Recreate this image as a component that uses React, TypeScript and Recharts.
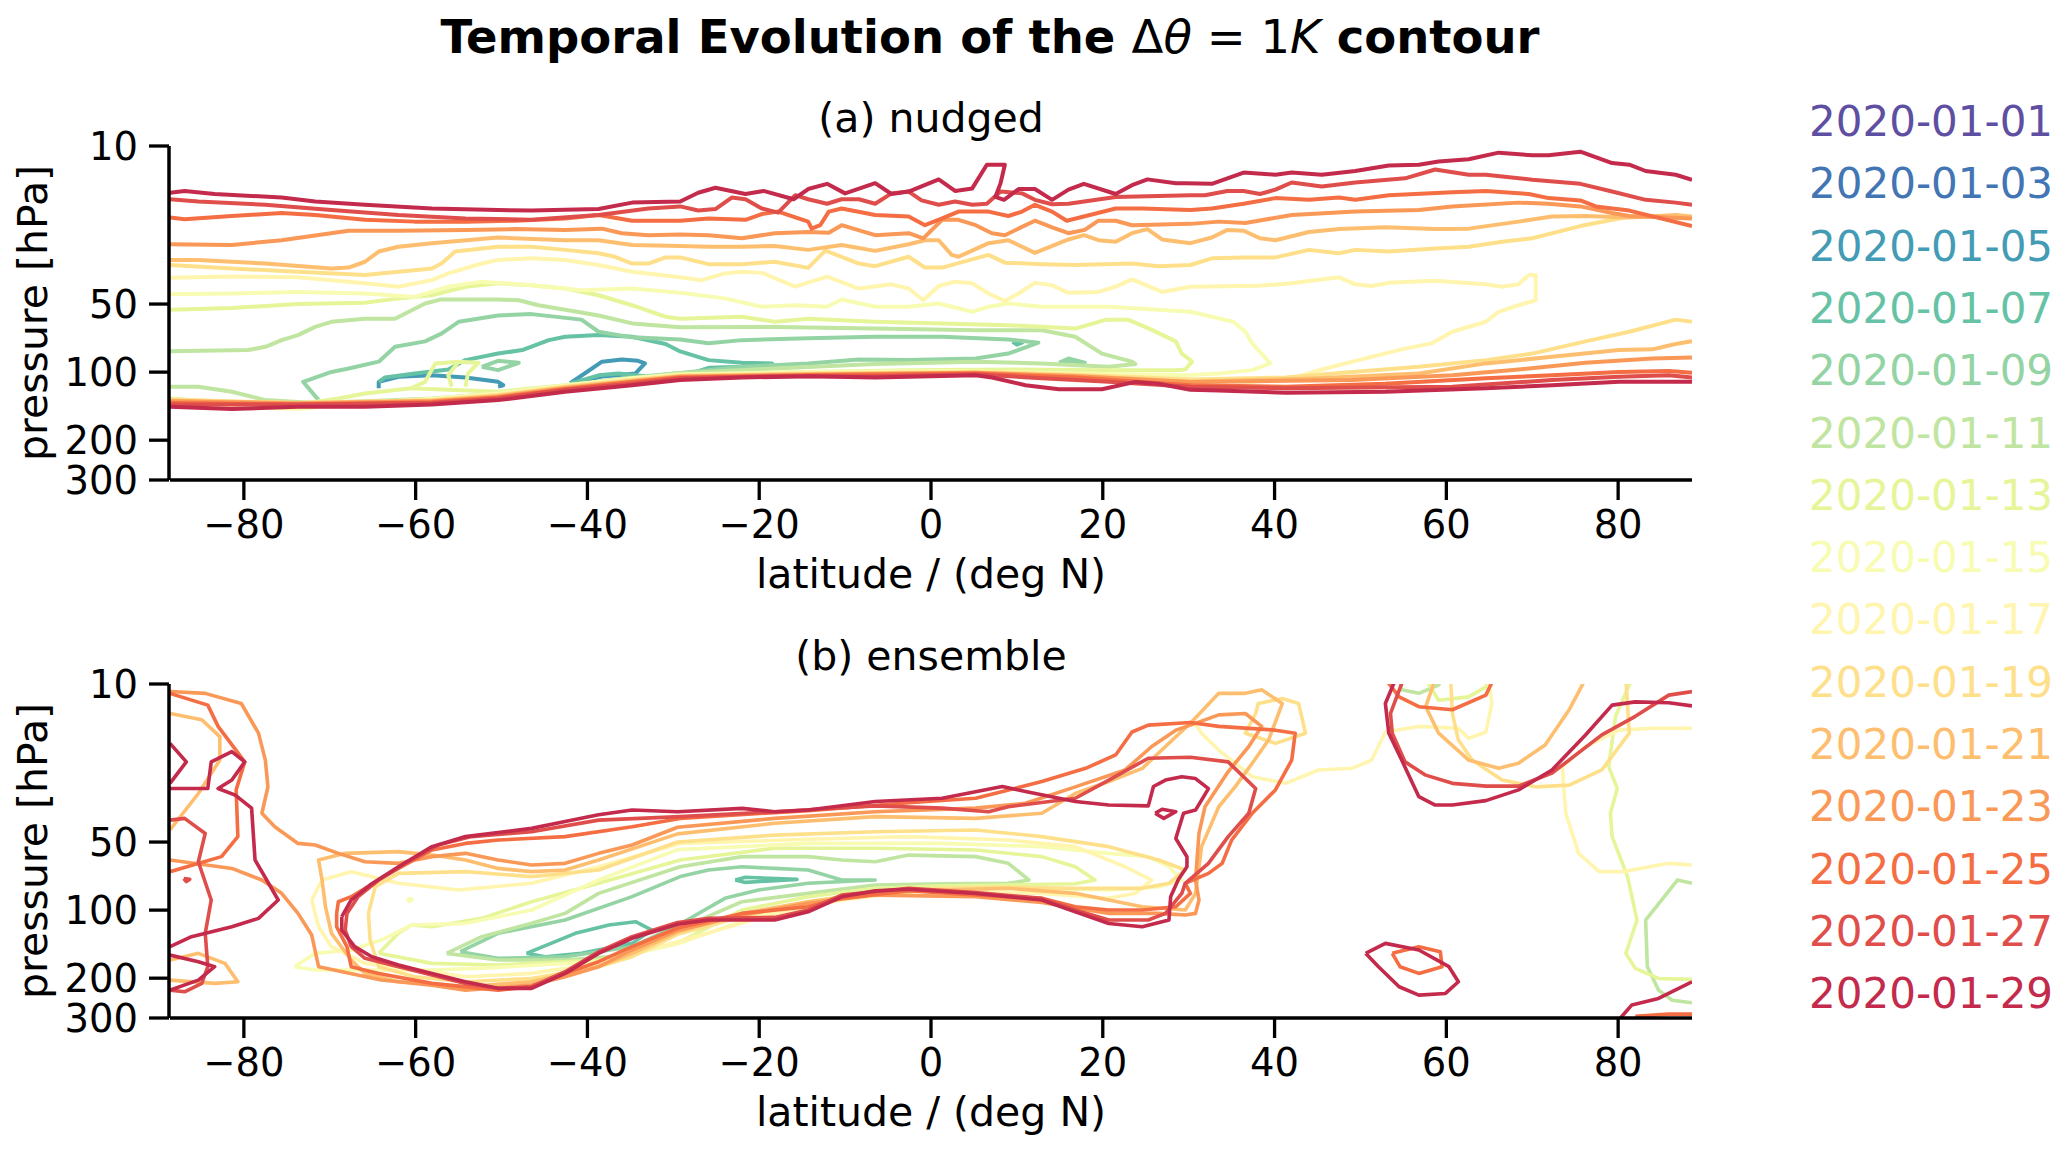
import React from 'react';
import { LineChart, Line, XAxis, YAxis } from 'recharts';

type Pt = [number, number]; // [latitude, pressure hPa]
type Seg = Pt[];

const dates = [
  '2020-01-01', '2020-01-03', '2020-01-05', '2020-01-07', '2020-01-09',
  '2020-01-11', '2020-01-13', '2020-01-15', '2020-01-17', '2020-01-19',
  '2020-01-21', '2020-01-23', '2020-01-25', '2020-01-27', '2020-01-29',
];
const latTicks = [-80, -60, -40, -20, 0, 20, 40, 60, 80];
const pressureTicks = [10, 50, 100, 200, 300];
const pressureMinorTicks = [20, 30, 40, 60, 70, 80, 90];

// ---------- (a) nudged ----------
const nudged01: Seg[] = [];
const nudged03: Seg[] = [];
const nudged05: Seg[] = [
  [[-64.3, 117.9], [-64.3, 110.4], [-62.0, 104.9], [-58.1, 103.3], [-54.2, 105.7], [-50.4, 110.4], [-49.8, 114.3], [-50.4, 116.0]],
  [[-42.0, 112.0], [-38.3, 89.9], [-36.0, 87.9], [-34.1, 89.1], [-33.3, 91.5], [-34.4, 101.4], [-38.3, 104.5], [-42.0, 112.0]],
];
const nudged07: Seg[] = [
  [[-64.3, 110.4], [-63.6, 105.7], [-60.1, 101.4], [-56.2, 97.4], [-54.2, 88.5], [-50.4, 82.8], [-47.6, 79.9], [-44.5, 72.2], [-42.6, 69.8], [-38.7, 68.6], [-34.8, 69.8], [-30.9, 75.1], [-29.2, 81.0], [-25.9, 88.5], [-22.0, 90.9], [-18.5, 91.5], [-22.0, 94.7], [-25.9, 95.7], [-27.9, 101.4], [-29.8, 104.9]],
  [[-42.0, 112.5], [-38.7, 103.3], [-36.4, 101.4], [-33.3, 104.3]],
  [[9.5, 73.5], [10.6, 74.0], [10.0, 75.6], [9.5, 73.5]],
];
const nudged09: Seg[] = [
  [[-71.3, 133.0], [-73.1, 110.4], [-69.8, 99.8], [-67.8, 96.4], [-64.3, 89.9], [-62.4, 77.3], [-58.9, 73.1], [-57.0, 67.6], [-55.0, 59.9], [-50.4, 56.2], [-46.5, 55.4], [-40.7, 58.6], [-38.7, 66.3], [-34.8, 70.2], [-29.2, 71.7], [-25.9, 74.6], [-22.0, 72.2], [-14.3, 70.9], [-6.5, 69.8], [1.3, 69.8], [9.0, 71.7], [12.5, 74.1], [9.0, 82.8], [5.2, 87.1], [-2.6, 88.5], [-8.4, 87.9], [-14.3, 91.5], [-22.0, 94.7], [-25.9, 98.0], [-29.8, 101.4], [-34.8, 105.7], [-38.7, 110.4]],
  [[14.9, 90.9], [16.0, 87.1], [17.9, 90.9], [14.9, 90.9]],
  [[-52.3, 94.7], [-50.4, 89.1], [-48.0, 90.9], [-50.4, 98.0], [-52.3, 94.7]],
];
const nudged11: Seg[] = [
  [[-88.6, 80.8], [-79.5, 79.9], [-77.5, 77.3], [-75.6, 72.2], [-73.7, 68.6], [-71.7, 63.1], [-69.8, 59.9], [-65.9, 58.1], [-62.4, 58.1], [-58.9, 49.7], [-57.0, 47.7], [-50.4, 47.7], [-48.0, 48.1], [-45.7, 50.6], [-42.6, 53.0], [-38.7, 56.2], [-34.8, 60.9], [-29.2, 63.4], [-18.2, 63.1], [-6.5, 64.2], [5.2, 65.3], [12.9, 65.3], [16.8, 69.8], [19.9, 82.8], [23.4, 89.9], [23.8, 92.1], [20.7, 94.7], [12.9, 91.5], [5.2, 89.9], [-6.5, 92.1], [-18.2, 96.4], [-29.8, 101.4], [-42.6, 115.4], [-50.4, 124.3], [-58.1, 130.9], [-65.9, 134.7], [-71.7, 137.0], [-77.5, 133.0], [-81.4, 122.2], [-85.3, 116.0], [-88.6, 116.0]],
];
const nudged13: Seg[] = [
  [[-88.6, 53.0], [-81.4, 52.1], [-73.7, 50.0], [-65.9, 49.3], [-62.0, 47.2], [-58.1, 45.7], [-54.2, 41.9], [-50.4, 40.5], [-46.5, 41.3], [-42.6, 42.7], [-38.7, 45.7], [-34.8, 50.6], [-30.9, 56.9], [-29.2, 58.1], [-22.0, 56.9], [-18.2, 59.9], [-14.3, 58.1], [-6.5, 59.9], [1.3, 60.9], [9.0, 62.0], [16.8, 64.2], [20.3, 58.7], [23.0, 58.7], [25.4, 64.2], [28.5, 73.1], [29.2, 82.8], [30.2, 88.5], [30.4, 89.9], [29.6, 97.4], [28.5, 98.0], [20.7, 98.0], [9.0, 97.4], [-2.6, 98.0], [-14.3, 99.8], [-29.2, 102.2], [-34.8, 106.5], [-42.6, 114.3], [-50.4, 122.2], [-60.5, 117.9], [-65.9, 124.3], [-69.0, 130.9], [-73.7, 139.0], [-81.4, 137.0], [-88.6, 130.9]],
  [[-60.5, 117.9], [-58.9, 110.4], [-57.7, 91.5], [-55.0, 89.9], [-56.2, 103.3], [-55.8, 116.0]],
  [[-54.2, 116.0], [-53.9, 101.4], [-52.7, 90.9], [-55.0, 89.9]],
];
const nudged15: Seg[] = [
  [[-88.6, 45.3], [-81.4, 44.9], [-73.7, 44.2], [-65.9, 44.9], [-60.1, 46.5], [-56.2, 41.9], [-52.3, 39.8], [-46.5, 41.3], [-40.7, 43.4], [-34.8, 42.7], [-29.2, 44.6], [-24.0, 47.2], [-19.7, 51.4], [-15.8, 50.6], [-12.1, 51.4], [-10.4, 47.7], [-6.5, 51.4], [-2.6, 51.4], [0.9, 49.7], [4.8, 54.1], [6.7, 51.4], [9.0, 49.7], [12.9, 51.4], [20.7, 51.4], [30.2, 54.1], [32.7, 56.9], [35.2, 59.9], [36.6, 66.3], [37.4, 74.6], [39.5, 91.5], [37.4, 98.0], [33.5, 101.4], [29.6, 103.3], [16.8, 101.4], [1.3, 98.8], [-14.3, 100.0], [-29.2, 102.6], [-34.8, 106.5], [-42.6, 114.7], [-50.4, 124.3], [-58.1, 131.3], [-65.9, 137.0], [-73.7, 145.7], [-81.4, 142.4], [-88.6, 134.7]],
];
const nudged17: Seg[] = [
  [[-88.6, 38.3], [-81.4, 37.8], [-73.7, 38.1], [-65.9, 40.5], [-62.0, 41.9], [-58.1, 39.2], [-56.2, 36.6], [-52.3, 33.1], [-50.4, 31.9], [-46.5, 31.4], [-42.6, 31.9], [-38.7, 33.6], [-34.8, 36.0], [-29.2, 38.1], [-26.7, 39.2], [-24.0, 36.6], [-22.0, 36.0], [-19.7, 36.4], [-15.8, 41.9], [-12.1, 37.8], [-8.4, 42.7], [-4.6, 40.9], [-2.6, 42.7], [-0.9, 48.1], [0.9, 41.6], [2.8, 39.8], [4.8, 40.5], [6.7, 44.9], [8.6, 48.5], [10.2, 44.9], [12.1, 40.3], [14.1, 41.3], [16.0, 44.6], [19.5, 44.2], [21.5, 41.9], [23.4, 38.9], [26.9, 44.2], [30.2, 41.9], [38.1, 41.5], [42.0, 40.5], [47.5, 38.1], [49.4, 40.9], [51.3, 41.6], [53.3, 40.3], [58.7, 39.4], [64.6, 40.9], [66.5, 41.9], [68.4, 40.9], [69.6, 37.2], [70.4, 37.2], [70.4, 48.1], [68.4, 50.6], [66.1, 54.1], [64.6, 59.9], [60.7, 66.3], [58.3, 74.6], [54.8, 79.3], [49.8, 88.5], [45.9, 96.4], [42.0, 106.5], [37.4, 110.4], [29.6, 108.0], [16.8, 102.2], [5.2, 99.5], [-14.3, 100.7], [-29.2, 103.0], [-34.8, 107.7], [-42.6, 115.4], [-50.4, 125.2], [-58.1, 132.2], [-65.9, 137.0], [-73.7, 142.4], [-81.4, 139.0], [-88.6, 133.0]],
];
const nudged19: Seg[] = [
  [[-88.6, 33.6], [-81.4, 34.8], [-73.7, 36.0], [-65.9, 37.2], [-58.1, 34.8], [-57.0, 33.1], [-55.4, 29.3], [-50.4, 27.9], [-46.5, 27.9], [-42.6, 28.8], [-38.7, 29.8], [-36.8, 30.9], [-34.8, 33.1], [-32.9, 33.1], [-30.9, 31.1], [-29.2, 31.1], [-25.9, 33.3], [-22.0, 33.3], [-18.2, 32.5], [-14.3, 34.6], [-12.3, 29.0], [-10.4, 30.9], [-8.4, 33.1], [-6.5, 34.0], [-2.6, 30.9], [-0.7, 34.5], [1.3, 34.5], [5.2, 31.4], [6.7, 30.3], [8.6, 32.8], [12.9, 33.3], [16.8, 33.6], [23.4, 33.1], [26.5, 34.0], [30.2, 33.6], [32.7, 31.4], [36.4, 31.1], [40.1, 31.1], [44.0, 28.8], [47.5, 29.8], [49.4, 28.8], [53.3, 29.3], [58.7, 28.4], [62.6, 27.9], [66.5, 26.5], [70.0, 25.6], [75.6, 22.6], [81.3, 20.5], [86.7, 20.4], [88.6, 20.9]],
  [[-88.6, 132.2], [-73.7, 137.0], [-58.1, 133.0], [-50.4, 126.3], [-42.6, 116.0], [-34.8, 108.4], [-29.2, 103.7], [-14.3, 101.4], [5.2, 99.8], [16.8, 102.6], [30.2, 107.7], [41.3, 105.7], [49.0, 99.8], [56.8, 94.7], [64.6, 88.5], [70.0, 82.8], [76.2, 73.1], [81.3, 66.3], [86.7, 58.6], [88.6, 59.9]],
];
const nudged21: Seg[] = [
  [[-88.6, 31.9], [-85.3, 31.9], [-77.5, 33.1], [-69.8, 34.8], [-67.8, 34.5], [-65.9, 32.5], [-64.3, 29.3], [-62.0, 27.9], [-58.1, 26.9], [-50.4, 25.4], [-42.6, 26.1], [-38.7, 26.1], [-34.8, 27.4], [-29.2, 27.7], [-25.9, 27.9], [-22.0, 27.9], [-18.2, 27.7], [-14.3, 28.8], [-10.4, 27.4], [-6.5, 29.1], [-2.6, 27.2], [-0.7, 26.1], [0.9, 26.1], [2.4, 30.3], [3.2, 30.9], [6.7, 26.9], [9.0, 26.1], [12.1, 29.7], [16.0, 25.9], [17.8, 24.8], [19.5, 26.1], [21.5, 26.5], [23.4, 24.3], [25.2, 23.3], [26.9, 25.9], [30.2, 26.9], [32.7, 25.4], [34.5, 23.5], [36.4, 23.7], [38.3, 25.6], [40.1, 26.1], [44.0, 24.0], [47.5, 23.3], [52.9, 22.9], [58.7, 23.3], [62.6, 23.2], [68.4, 21.6], [72.3, 20.5], [76.2, 20.4], [81.3, 20.7], [86.7, 20.2], [88.6, 20.5]],
  [[-88.6, 133.7], [-73.7, 137.0], [-58.1, 133.7], [-50.4, 127.6], [-42.6, 116.9], [-34.8, 109.1], [-29.2, 104.3], [-14.3, 102.2], [5.2, 100.7], [16.8, 103.7], [30.2, 110.4], [45.1, 106.5], [56.8, 101.4], [64.6, 91.5], [72.3, 85.6], [80.1, 79.9], [84.0, 79.3], [86.7, 75.1], [88.6, 73.1]],
];
const nudged23: Seg[] = [
  [[-88.6, 27.2], [-81.4, 27.4], [-75.6, 26.1], [-67.8, 23.7], [-62.0, 23.7], [-54.2, 23.5], [-48.4, 23.3], [-42.6, 23.5], [-38.3, 23.2], [-36.0, 24.3], [-32.9, 24.8], [-29.2, 24.6], [-25.9, 24.8], [-22.0, 25.6], [-18.2, 24.3], [-14.3, 24.0], [-11.9, 24.2], [-10.4, 22.4], [-6.5, 24.8], [-2.6, 24.3], [-0.9, 25.6], [1.3, 21.2], [3.2, 21.2], [5.2, 22.4], [7.1, 24.3], [8.6, 24.8], [12.1, 21.4], [14.1, 22.9], [16.0, 24.3], [17.9, 23.5], [19.5, 21.4], [21.5, 21.4], [23.4, 22.4], [30.2, 22.1], [33.5, 21.6], [36.6, 21.9], [38.1, 21.4], [42.0, 20.2], [49.4, 19.5], [56.8, 19.2], [60.7, 18.5], [68.4, 17.8], [71.9, 18.0], [75.6, 18.5], [79.3, 19.8], [81.3, 20.4], [88.6, 20.9]],
  [[-88.6, 134.7], [-73.7, 137.8], [-58.1, 134.7], [-50.4, 128.7], [-42.6, 117.9], [-34.8, 110.4], [-29.2, 104.9], [-14.3, 102.6], [5.2, 100.7], [16.8, 104.3], [30.2, 110.5], [49.0, 108.4], [60.7, 103.3], [68.4, 97.4], [76.2, 90.9], [84.0, 87.1], [88.6, 86.2]],
];
const nudged25: Seg[] = [
  [[-88.6, 20.7], [-86.9, 21.1], [-81.4, 20.4], [-75.6, 19.8], [-71.7, 20.2], [-65.9, 21.2], [-60.1, 21.6], [-54.2, 21.6], [-48.4, 21.4], [-42.6, 20.9], [-38.7, 20.2], [-34.8, 21.4], [-29.2, 21.4], [-25.9, 20.9], [-21.6, 21.2], [-19.7, 20.0], [-17.8, 19.5], [-14.3, 21.6], [-13.9, 23.2], [-12.9, 22.4], [-11.9, 19.5], [-10.4, 18.9], [-6.5, 20.2], [-2.6, 20.5], [-0.7, 22.4], [1.3, 20.9], [3.2, 19.5], [6.7, 19.5], [9.0, 20.4], [10.6, 19.5], [12.1, 18.2], [14.1, 19.5], [15.8, 21.4], [17.8, 20.5], [21.5, 18.9], [24.6, 18.9], [30.2, 19.2], [32.7, 18.9], [36.4, 18.0], [40.1, 17.0], [44.0, 17.3], [47.5, 16.9], [49.4, 17.3], [53.3, 16.5], [60.7, 16.0], [64.6, 15.8], [69.6, 16.3], [71.9, 17.0], [75.6, 17.4], [77.4, 18.5], [81.3, 19.3], [88.6, 22.6]],
  [[-88.6, 137.0], [-73.7, 139.0], [-58.1, 136.0], [-50.4, 129.5], [-42.6, 119.1], [-34.8, 110.5], [-29.2, 105.7], [-14.3, 103.3], [5.2, 101.4], [16.8, 105.7], [30.2, 114.3], [41.3, 116.0], [52.9, 112.5], [64.6, 106.5], [72.3, 103.3], [80.1, 99.8], [85.9, 98.8], [88.6, 100.7]],
];
const nudged27: Seg[] = [
  [[-88.6, 17.2], [-85.3, 17.6], [-77.5, 18.2], [-69.8, 19.2], [-62.0, 20.2], [-54.2, 20.9], [-46.5, 21.2], [-38.7, 20.2], [-32.9, 18.9], [-29.2, 18.5], [-27.1, 19.3], [-25.1, 19.0], [-23.2, 16.9], [-21.6, 17.2], [-19.7, 18.9], [-17.8, 19.7], [-15.8, 16.5], [-14.3, 17.2], [-12.1, 18.0], [-10.4, 17.2], [-8.4, 17.2], [-6.5, 18.0], [-4.6, 16.2], [-2.6, 15.9], [-1.1, 17.4], [0.9, 18.2], [2.8, 17.6], [4.8, 18.2], [6.5, 18.0], [8.1, 15.9], [10.6, 16.2], [12.1, 17.3], [14.1, 18.1], [16.0, 18.0], [21.5, 16.8], [30.2, 16.5], [31.9, 16.5], [34.5, 15.8], [36.4, 15.8], [38.3, 16.3], [40.1, 15.6], [42.0, 14.5], [45.5, 15.1], [49.4, 14.5], [55.2, 13.9], [58.7, 12.7], [62.6, 13.4], [64.6, 13.4], [70.0, 14.1], [75.6, 14.7], [79.3, 15.9], [83.2, 17.3], [86.7, 17.8], [88.6, 18.2]],
  [[-88.6, 139.0], [-73.7, 139.0], [-58.1, 137.0], [-50.4, 130.9], [-42.6, 119.8], [-34.8, 112.5], [-29.2, 106.5], [-18.2, 104.3], [-6.5, 104.3], [5.2, 102.2], [12.9, 106.5], [20.7, 110.4], [30.2, 116.0], [41.3, 117.9], [60.7, 116.0], [72.3, 108.4], [80.1, 104.9], [85.9, 103.3], [88.6, 105.7]],
];
const nudged29: Seg[] = [
  [[-88.6, 16.1], [-86.9, 15.8], [-83.4, 16.3], [-75.6, 16.9], [-71.7, 17.6], [-65.9, 18.2], [-58.1, 18.9], [-50.4, 19.2], [-46.5, 19.3], [-38.7, 19.0], [-34.8, 17.8], [-29.2, 17.6], [-27.1, 16.1], [-25.1, 15.3], [-21.6, 16.3], [-19.5, 15.8], [-16.0, 17.2], [-14.3, 15.5], [-12.1, 14.7], [-10.0, 16.2], [-6.5, 14.6], [-4.6, 16.3], [-2.6, 15.9], [0.9, 14.05], [2.8, 15.8], [4.8, 15.4], [6.5, 12.1], [8.6, 12.1], [8.1, 14.6], [7.5, 16.8], [8.5, 17.3], [10.2, 15.5], [12.1, 15.5], [14.1, 17.3], [16.0, 15.6], [17.8, 14.7], [21.5, 16.3], [23.4, 14.9], [25.2, 14.05], [28.5, 14.6], [29.6, 14.6], [32.7, 14.7], [36.4, 13.1], [40.1, 13.4], [42.0, 13.1], [45.5, 13.4], [49.4, 12.9], [53.3, 12.2], [56.8, 12.1], [59.1, 11.7], [62.6, 11.45], [66.1, 10.7], [70.0, 11.0], [71.9, 11.0], [75.6, 10.6], [79.3, 11.9], [81.3, 12.1], [83.2, 12.9], [86.7, 13.4], [88.6, 14.1]],
  [[-88.6, 142.4], [-81.4, 145.7], [-73.7, 142.4], [-65.9, 142.4], [-58.1, 139.1], [-50.4, 133.0], [-42.6, 122.2], [-34.8, 114.3], [-29.2, 108.4], [-22.0, 105.7], [-14.3, 104.3], [-6.5, 105.7], [5.2, 103.3], [7.1, 105.7], [11.0, 114.3], [14.9, 119.1], [19.9, 119.1], [23.8, 110.5], [26.5, 112.5], [30.2, 119.8], [33.5, 120.6], [41.3, 123.5], [52.9, 122.2], [64.6, 117.9], [72.3, 114.3], [80.1, 110.4], [85.9, 110.4], [88.6, 110.4]],
];

// ---------- (b) ensemble ----------
const ensemble01: Seg[] = [];
const ensemble03: Seg[] = [];
const ensemble05: Seg[] = [];
const ensemble07: Seg[] = [
  [[-47.1, 155.3], [-41.4, 126.7], [-37.5, 116.4], [-34.4, 112.5], [-32.5, 122.5], [-34.8, 140.3], [-40.7, 155.3], [-44.9, 160.7], [-47.1, 155.3]],
  [[-22.8, 73.6], [-21.6, 71.6], [-15.6, 73.1], [-21.6, 75.4], [-22.8, 73.6]],
];
const ensemble09: Seg[] = [
  [[-54.8, 152.7], [-50.4, 126.7], [-42.6, 110.6], [-34.8, 87.2], [-29.2, 71.1], [-25.9, 66.5], [-22.0, 64.3], [-18.2, 65.4], [-14.3, 66.5], [-10.4, 73.6], [-6.5, 73.6], [-14.3, 76.1], [-20.1, 81.5], [-24.0, 88.7], [-29.5, 117.0], [-34.8, 145.1], [-42.6, 160.7], [-50.4, 163.4], [-54.8, 152.7]],
];
const ensemble11: Seg[] = [
  [[-56.4, 155.3], [-52.3, 131.1], [-46.5, 114.4], [-42.6, 103.4], [-38.7, 84.3], [-29.2, 64.3], [-22.0, 58.0], [-14.3, 58.0], [-10.4, 60.0], [-6.5, 61.1], [-2.6, 57.1], [5.2, 58.0], [9.0, 62.1], [11.4, 73.6], [9.0, 76.1], [1.3, 76.4], [-6.5, 77.4], [-14.3, 84.3], [-22.0, 91.8], [-29.5, 122.0], [-34.8, 158.0], [-42.6, 166.2], [-50.4, 166.2], [-56.4, 155.3]],
  [[54.5, 9.5], [54.8, 10.6], [56.8, 11.0], [59.1, 10.1], [59.5, 9.5]],
  [[88.6, 76.1], [86.9, 73.6], [83.2, 110.6], [83.4, 177.9], [84.7, 225.8], [86.3, 250.2], [88.6, 256.8]],
];
const ensemble13: Seg[] = [
  [[-64.3, 155.3], [-62.0, 126.7], [-60.5, 116.4], [-58.1, 118.4], [-52.3, 108.8], [-46.5, 91.8], [-38.7, 76.1], [-29.2, 60.0], [-18.2, 53.3], [-6.5, 53.3], [5.2, 54.2], [12.9, 58.0], [16.8, 64.3], [19.1, 73.6], [16.8, 76.4], [9.0, 77.4], [1.3, 78.0], [-6.5, 80.1], [-14.3, 87.2], [-22.0, 99.9], [-29.5, 140.0], [-38.7, 166.2], [-50.4, 174.9], [-58.1, 172.0], [-64.3, 155.3]],
  [[81.6, 9.5], [79.7, 13.9], [78.9, 23.2], [79.9, 29.0], [79.1, 37.3], [79.3, 47.3], [81.1, 71.1], [82.2, 110.6], [80.9, 155.3], [82.0, 181.0], [84.7, 200.5], [88.6, 202.5]],
  [[57.6, 9.5], [59.1, 11.8], [62.6, 11.4], [64.6, 10.3], [64.9, 9.5]],
];
const ensemble15: Seg[] = [
  [[-74.1, 177.9], [-71.7, 155.3], [-67.5, 150.1], [-64.0, 135.6], [-60.5, 116.4], [-54.2, 114.4], [-46.5, 99.9], [-38.7, 73.6], [-29.5, 54.0], [-14.3, 50.7], [1.3, 50.7], [12.9, 52.4], [20.7, 56.1], [25.3, 58.0], [27.7, 64.3], [29.2, 73.6], [26.5, 78.8], [20.7, 81.5], [12.9, 80.1], [5.2, 80.1], [-2.6, 81.5], [-10.4, 87.2], [-18.2, 99.9], [-29.5, 141.0], [-38.7, 169.1], [-50.4, 179.1], [-58.1, 184.1], [-65.9, 184.1], [-71.7, 184.1], [-74.1, 177.9]],
  [[-61.0, 89.0], [-60.4, 89.6], [-60.7, 91.5], [-61.0, 89.0]],
];
const ensemble17: Seg[] = [
  [[-72.1, 90.2], [-70.9, 73.6], [-67.5, 67.6], [-62.0, 76.1], [-55.0, 81.5], [-46.5, 76.1], [-38.7, 64.3], [-29.2, 50.7], [-14.3, 48.6], [-2.6, 47.3], [9.0, 49.0], [16.8, 52.4], [22.6, 64.3], [25.7, 73.6], [23.8, 84.3], [20.7, 88.7], [12.9, 84.3], [5.2, 82.9], [-2.6, 82.9], [-10.4, 90.2], [-18.2, 103.4], [-29.5, 138.0], [-38.7, 172.0], [-46.5, 190.5], [-54.2, 197.1], [-62.0, 177.9], [-65.9, 172.0], [-69.8, 145.1], [-71.3, 118.4], [-72.1, 90.2]],
  [[30.5, 14.5], [31.5, 16.5], [33.5, 19.6], [37.4, 25.7], [41.3, 27.5], [45.1, 24.0], [49.0, 23.6], [51.3, 21.7], [52.9, 16.3], [56.8, 15.4], [61.4, 15.7], [62.6, 17.4], [64.6, 16.3], [65.3, 12.2], [64.9, 9.5]],
  [[88.6, 15.7], [84.0, 15.7], [80.1, 16.0], [76.2, 18.9], [73.5, 23.2], [73.9, 37.3], [75.4, 56.1], [77.8, 67.6], [80.5, 67.6], [85.9, 62.1], [88.6, 63.2]],
];
const ensemble19: Seg[] = [
  [[-65.5, 103.4], [-64.7, 78.8], [-62.0, 68.8], [-54.2, 67.6], [-46.5, 71.1], [-38.7, 66.5], [-29.5, 50.0], [-18.2, 46.6], [-6.5, 45.0], [5.2, 44.2], [12.9, 47.3], [20.7, 52.4], [26.5, 60.0], [29.6, 66.5], [27.7, 76.1], [24.6, 80.1], [16.8, 80.1], [9.0, 79.3], [1.3, 80.1], [-6.5, 82.9], [-14.3, 91.8], [-22.0, 106.9], [-29.5, 128.0], [-34.8, 160.7], [-38.7, 177.9], [-46.5, 200.5], [-54.2, 207.4], [-60.1, 197.1], [-64.3, 177.9], [-65.3, 135.6], [-65.5, 103.4]],
  [[60.5, 9.5], [60.7, 13.5], [61.4, 17.7], [63.0, 21.7], [66.5, 26.6], [70.4, 28.5], [74.3, 28.0], [78.1, 24.0], [81.3, 16.5], [80.9, 9.5]],
  [[37.8, 13.5], [36.6, 16.5], [40.1, 18.3], [43.6, 16.5], [42.8, 12.2], [40.9, 11.6], [38.1, 12.2], [37.8, 13.5]],
];
const ensemble21: Seg[] = [
  [[-70.9, 73.6], [-71.3, 60.0], [-68.2, 56.1], [-62.0, 55.1], [-58.1, 57.1], [-54.2, 60.0], [-50.4, 65.4], [-46.5, 67.6], [-42.6, 66.5], [-38.7, 60.0], [-29.5, 46.0], [-18.2, 41.3], [-6.5, 38.6], [5.2, 39.3], [12.9, 37.3], [16.8, 30.5], [20.7, 27.0], [24.6, 23.6], [27.3, 18.9], [30.2, 14.9], [33.5, 11.0], [36.6, 11.0], [38.5, 10.6], [40.9, 12.2], [39.3, 17.7], [37.4, 22.4], [35.4, 28.5], [33.5, 34.9], [31.5, 52.4], [30.8, 84.3], [29.6, 99.9], [24.6, 96.6], [16.8, 84.3], [9.0, 80.1], [1.3, 81.5], [-6.5, 84.3], [-14.3, 91.8], [-22.0, 103.4], [-29.5, 125.0], [-34.8, 155.3], [-38.7, 177.9], [-46.5, 207.4], [-54.2, 218.2], [-62.0, 207.4], [-65.9, 190.5], [-67.5, 166.2], [-69.8, 126.7], [-70.5, 96.6], [-70.9, 73.6]],
  [[-88.6, 13.5], [-84.9, 14.4], [-82.8, 17.1], [-82.8, 21.7], [-85.3, 30.5], [-88.6, 44.2]],
  [[-88.6, 166.2], [-85.3, 155.3], [-82.2, 172.0], [-80.7, 207.4], [-83.4, 210.9], [-88.6, 203.9]],
  [[58.7, 9.5], [57.6, 12.6], [59.1, 16.5], [62.6, 21.7], [66.1, 23.6], [68.4, 22.4], [71.5, 18.6], [74.3, 13.0], [76.2, 9.5]],
];
const ensemble23: Seg[] = [
  [[-88.6, 10.8], [-84.5, 11.0], [-80.3, 12.2], [-78.3, 16.5], [-77.5, 21.7], [-77.2, 28.5], [-77.9, 37.3], [-76.4, 42.8], [-73.7, 50.7], [-71.7, 51.5], [-69.0, 56.1], [-65.9, 61.1], [-62.0, 62.1], [-58.1, 58.0], [-54.2, 56.1], [-50.4, 60.0], [-46.5, 63.2], [-42.6, 62.1], [-38.7, 56.1], [-34.8, 51.5], [-29.5, 43.0], [-18.2, 39.3], [-6.5, 36.7], [5.2, 35.4], [11.0, 33.7], [16.8, 28.5], [22.6, 24.0], [25.7, 18.9], [28.5, 16.0], [30.2, 15.2], [33.5, 13.7], [36.6, 13.5], [38.5, 15.4], [37.0, 18.9], [34.6, 24.4], [31.9, 34.9], [31.2, 45.8], [30.8, 73.6], [31.2, 90.2], [30.8, 103.4], [29.6, 105.1], [26.5, 103.4], [20.7, 103.4], [12.9, 92.6], [5.2, 87.2], [-6.5, 85.8], [-14.3, 93.3], [-22.0, 105.1], [-29.5, 123.0], [-34.8, 150.1], [-38.7, 177.9], [-42.6, 197.1], [-46.5, 214.6], [-54.2, 225.8], [-58.1, 214.6], [-64.0, 203.9], [-71.3, 177.9], [-72.1, 128.9], [-73.7, 103.4], [-75.6, 84.3], [-77.9, 73.6], [-81.4, 65.4], [-88.6, 60.0]],
];
const ensemble25: Seg[] = [
  [[-69.2, 103.4], [-69.0, 91.8], [-67.5, 87.2], [-64.3, 73.6], [-62.0, 65.4], [-58.1, 54.2], [-54.2, 50.7], [-50.4, 49.0], [-42.6, 47.3], [-34.8, 42.8], [-29.2, 39.3], [-14.3, 36.3], [-2.6, 33.5], [5.2, 32.0], [12.9, 27.0], [18.0, 23.6], [21.5, 20.6], [23.4, 16.3], [25.3, 15.2], [30.2, 14.8], [33.5, 15.4], [40.1, 16.0], [42.4, 16.5], [42.0, 21.7], [40.1, 29.4], [37.4, 37.3], [35.0, 49.0], [33.9, 62.1], [32.3, 68.8], [29.6, 76.1], [30.2, 84.3], [28.5, 96.6], [24.6, 99.9], [20.7, 99.9], [16.8, 96.6], [12.9, 88.7], [5.2, 85.8], [-2.6, 82.0], [-10.4, 88.7], [-14.3, 96.6], [-22.0, 103.4], [-29.5, 120.0], [-34.8, 145.1], [-38.7, 169.1], [-42.6, 190.5], [-46.5, 218.2], [-50.4, 225.8], [-58.1, 210.9], [-64.3, 190.5], [-67.5, 177.9], [-68.0, 145.1], [-69.2, 118.4], [-69.2, 103.4]],
  [[-88.6, 11.0], [-84.2, 12.4], [-83.0, 15.4], [-79.9, 22.1], [-80.9, 29.4], [-80.7, 47.3], [-82.6, 58.0], [-88.6, 67.6]],
  [[52.9, 9.5], [54.5, 11.4], [56.8, 12.6], [60.7, 13.0], [64.6, 11.2], [65.5, 9.5]],
  [[53.7, 155.3], [56.8, 145.1], [59.3, 152.7], [59.5, 177.9], [56.8, 190.5], [54.6, 177.9], [53.7, 155.3]],
  [[82.0, 294.5], [85.9, 288.5], [88.6, 288.5]],
];
const ensemble27: Seg[] = [
  [[-68.0, 103.4], [-66.7, 87.2], [-64.3, 73.6], [-61.2, 62.1], [-57.4, 51.5], [-53.5, 47.3], [-46.5, 45.0], [-38.7, 40.0], [-29.2, 38.6], [-18.2, 36.7], [-6.5, 34.6], [1.3, 35.4], [6.7, 36.7], [9.0, 34.9], [16.8, 32.0], [20.7, 26.6], [25.3, 21.3], [30.2, 21.1], [34.6, 22.1], [37.8, 29.0], [37.0, 37.3], [34.6, 47.3], [32.3, 62.1], [29.6, 76.1], [29.2, 84.3], [27.3, 103.4], [25.3, 110.6], [20.7, 110.6], [16.8, 99.9], [12.9, 88.7], [5.2, 83.7], [-2.6, 80.1], [-10.4, 85.8], [-14.3, 99.9], [-18.2, 107.7], [-25.9, 108.8], [-29.5, 113.5], [-34.8, 131.1], [-38.7, 152.7], [-42.6, 187.3], [-46.5, 218.2], [-50.4, 222.0], [-54.2, 210.9], [-58.1, 193.8], [-62.0, 177.9], [-65.9, 163.4], [-67.5, 145.1], [-68.2, 122.5], [-68.0, 103.4]],
  [[-88.6, 40.0], [-86.9, 39.3], [-84.5, 45.8], [-85.3, 61.1], [-83.8, 90.2], [-84.5, 126.7], [-84.2, 177.9], [-84.9, 210.9], [-86.9, 229.7], [-88.6, 225.8]],
  [[55.0, 9.5], [53.5, 13.5], [53.7, 16.5], [55.2, 22.1], [57.6, 25.3], [60.7, 27.5], [64.6, 28.3], [68.4, 28.3], [72.3, 24.8], [78.1, 16.8], [82.0, 13.9], [85.9, 11.2], [88.6, 10.8]],
  [[-87.0, 72.5], [-86.3, 73.0], [-86.7, 74.8], [-87.0, 72.5]],
];
const ensemble29: Seg[] = [
  [[-68.6, 106.9], [-67.5, 90.2], [-65.1, 76.4], [-62.0, 64.3], [-58.1, 52.4], [-54.2, 47.3], [-50.4, 45.4], [-46.5, 43.5], [-42.6, 40.6], [-38.7, 37.9], [-34.8, 36.1], [-29.5, 36.7], [-22.0, 35.5], [-18.2, 36.7], [-14.3, 36.1], [-6.5, 33.1], [1.3, 32.0], [8.3, 28.4], [11.0, 29.9], [16.8, 33.1], [20.7, 34.3], [25.3, 34.6], [25.9, 28.4], [27.3, 26.6], [29.2, 25.7], [30.8, 26.2], [32.3, 29.0], [30.8, 36.1], [29.4, 37.3], [28.5, 48.2], [29.8, 58.1], [29.8, 64.3], [28.8, 73.3], [27.9, 87.3], [27.7, 110.6], [24.6, 118.4], [20.7, 114.6], [16.8, 101.8], [12.9, 90.2], [5.2, 84.4], [-2.6, 80.9], [-6.5, 82.2], [-10.4, 87.3], [-14.3, 101.8], [-18.2, 110.6], [-25.9, 110.6], [-29.5, 115.5], [-34.8, 133.3], [-38.7, 155.4], [-42.6, 190.5], [-46.5, 221.8], [-50.4, 221.8], [-54.2, 207.3], [-58.1, 190.5], [-62.0, 174.9], [-65.1, 160.7], [-67.1, 145.1], [-68.6, 122.5], [-68.6, 106.9]],
  [[26.1, 37.3], [27.1, 39.3], [28.5, 36.7], [26.9, 35.8], [26.1, 37.3]],
  [[-88.6, 18.3], [-86.7, 22.1], [-88.6, 27.5]],
  [[-88.6, 29.0], [-84.2, 29.0], [-83.8, 22.1], [-81.4, 19.9], [-79.9, 22.1], [-81.4, 26.6], [-83.0, 29.0], [-81.0, 31.0], [-79.1, 35.4], [-78.7, 60.0], [-76.0, 90.2], [-78.3, 108.8], [-81.4, 118.4], [-86.1, 131.1], [-88.6, 145.1]],
  [[-88.6, 158.0], [-85.3, 169.1], [-83.4, 177.9], [-85.3, 203.9], [-88.6, 225.8]],
  [[54.1, 9.5], [52.9, 12.2], [53.3, 16.5], [54.8, 21.7], [56.8, 31.5], [58.7, 34.3], [60.7, 34.3], [64.6, 32.8], [68.4, 29.4], [72.3, 24.0], [76.2, 16.8], [79.3, 12.4], [82.0, 12.0], [85.9, 12.1], [88.6, 12.5]],
  [[80.1, 305.0], [81.6, 262.5], [84.7, 245.9], [88.6, 207.4]],
  [[50.6, 155.3], [52.9, 140.3], [56.8, 150.1], [60.3, 177.9], [61.4, 207.4], [59.9, 233.6], [56.8, 237.6], [54.5, 218.2], [52.1, 177.9], [50.6, 155.3]],
];

const nudgedRuns: Seg[][] = [nudged01, nudged03, nudged05, nudged07, nudged09, nudged11, nudged13, nudged15, nudged17, nudged19, nudged21, nudged23, nudged25, nudged27, nudged29];
const ensembleRuns: Seg[][] = [ensemble01, ensemble03, ensemble05, ensemble07, ensemble09, ensemble11, ensemble13, ensemble15, ensemble17, ensemble19, ensemble21, ensemble23, ensemble25, ensemble27, ensemble29];

// Spectral_r sampled at 16 steps, first 15 used
const palette = [
  '#5e4fa2', '#4175b4', '#439bb5', '#66c2a5', '#94d4a4',
  '#bfe5a0', '#e6f598', '#f7fcb2', '#fff5ae', '#fee08b',
  '#fdbf6f', '#fa9857', '#f46d43', '#df4e4b', '#c32a4b',
];

const FONT = 'DejaVu Sans';

function toRows(segs: Seg[]) {
  const rows: { lat: number; p: number | null }[] = [];
  segs.forEach((seg) => {
    seg.forEach(([lat, p]) => rows.push({ lat, p }));
    rows.push({ lat: seg[seg.length - 1][0], p: null });
  });
  return rows;
}

const tickStyle = { fontSize: 38.5, fill: '#000', fontFamily: FONT };
const fmtLat = (v: number) => (v < 0 ? `\u2212${-v}` : `${v}`);

function Panel({ runs, top, lineWidth }: { runs: Seg[][]; top: number; lineWidth: number }) {
  // plot area: x 170..1692, y 146..480 inside a 1760x600 chart
  return (
    <div style={{ position: 'absolute', left: 0, top }}>
      <LineChart width={1760} height={600} margin={{ top: 146, right: 68, bottom: 119, left: 168 }}>
        <XAxis
          type="number"
          dataKey="lat"
          domain={[-88.6, 88.6]}
          ticks={latTicks}
          interval={0}
          allowDataOverflow
          height={1}
          tickSize={20}
          tickMargin={11}
          tick={tickStyle}
          tickFormatter={fmtLat}
          axisLine={{ stroke: '#000', strokeWidth: 3.5 }}
          tickLine={{ stroke: '#000', strokeWidth: 3.3 }}
        />
        <YAxis
          yAxisId="p"
          type="number"
          scale="log"
          domain={[10, 300]}
          reversed
          allowDataOverflow
          ticks={pressureTicks}
          interval={0}
          width={1}
          tickSize={20}
          tickMargin={11}
          tick={tickStyle}
          axisLine={{ stroke: '#000', strokeWidth: 3.5 }}
          tickLine={{ stroke: '#000', strokeWidth: 3.3 }}
        />
        <YAxis
          yAxisId="minor"
          type="number"
          scale="log"
          domain={[10, 300]}
          reversed
          allowDataOverflow
          ticks={pressureMinorTicks}
          interval={0}
          width={1}
          tickSize={13}
          tick={false}
          axisLine={false}
          tickLine={{ stroke: '#000', strokeWidth: 2.7 }}
        />
        {runs.map((segs, i) =>
          segs.length ? (
            <Line
              key={dates[i]}
              name={dates[i]}
              yAxisId="p"
              data={toRows(segs)}
              dataKey="p"
              type="linear"
              stroke={palette[i]}
              strokeWidth={lineWidth}
              strokeLinejoin="round"
              dot={false}
              activeDot={false}
              connectNulls={false}
              isAnimationActive={false}
            />
          ) : null
        )}
      </LineChart>
    </div>
  );
}

export default function App() {
  return (
    <div style={{ position: 'absolute', left: 0, top: 0, width: 2067, height: 1151, background: '#fff', overflow: 'hidden' }}>
      <Panel runs={nudgedRuns} top={0} lineWidth={4} />
      <Panel runs={ensembleRuns} top={538} lineWidth={3.6} />
      <svg width={2067} height={1151} style={{ position: 'absolute', left: 0, top: 0, pointerEvents: 'none' }} fontFamily={FONT}>
        <text x={990} y={53} textAnchor="middle" fontSize={46.5} fill="#000">
          <tspan fontWeight="bold">{'Temporal Evolution of the '}</tspan>
          <tspan>{'\u0394'}</tspan>
          <tspan fontStyle="italic">{'\u03b8'}</tspan>
          <tspan>{' = 1'}</tspan>
          <tspan fontStyle="italic">{'K'}</tspan>
          <tspan fontWeight="bold">{' contour'}</tspan>
        </text>
        <text x={931} y={132} textAnchor="middle" fontSize={41} fill="#000">(a) nudged</text>
        <text x={931} y={670} textAnchor="middle" fontSize={41} fill="#000">(b) ensemble</text>
        <text x={931} y={588} textAnchor="middle" fontSize={41} fill="#000">latitude / (deg N)</text>
        <text x={931} y={1126} textAnchor="middle" fontSize={41} fill="#000">latitude / (deg N)</text>
        <text transform="translate(47,313) rotate(-90)" textAnchor="middle" fontSize={41} fill="#000">pressure [hPa]</text>
        <text transform="translate(47,851) rotate(-90)" textAnchor="middle" fontSize={41} fill="#000">pressure [hPa]</text>
        {dates.map((d, i) => (
          <text key={d} x={1809} y={136 + 62.3 * i} fontSize={42} fill={palette[i]}>
            {d}
          </text>
        ))}
      </svg>
    </div>
  );
}
